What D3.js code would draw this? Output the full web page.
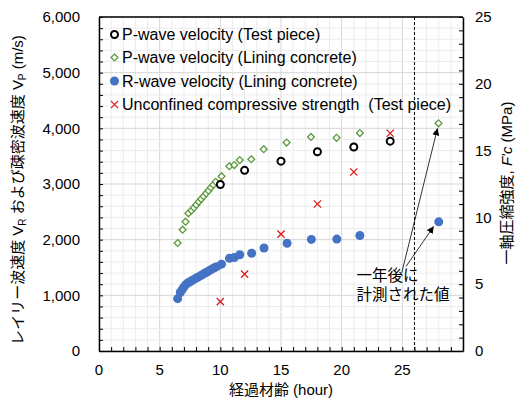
<!DOCTYPE html>
<html><head><meta charset="utf-8">
<script src="https://cdn.jsdelivr.net/npm/d3@7"></script>
<style>body{margin:0;background:#fff}svg{display:block}</style>
</head><body><svg id="c" width="518" height="401"></svg>
<script>
// ---- data ----
const pTestX = [10, 12, 15, 18, 21, 24];
const pTestY = [2990, 3245, 3410, 3580, 3665, 3770];
const pLinX = [6.48, 6.89, 7.13, 7.37, 7.62, 7.82, 8.02, 8.22, 8.42, 8.62, 8.82, 9.02, 9.22, 9.42, 9.62, 10.1, 10.74, 11.15, 11.6, 12.55, 13.58, 15.46, 17.47, 19.58, 21.5, 27.98];
const pLinY = [1940, 2179, 2323, 2474, 2525, 2575, 2625, 2680, 2730, 2780, 2830, 2880, 2935, 2985, 3040, 3140, 3320, 3340, 3430, 3445, 3625, 3745, 3845, 3830, 3915, 4090];
const rLinX = [6.48, 6.7, 6.85, 7.0, 7.15, 7.3, 7.5, 7.7, 7.9, 8.1, 8.3, 8.5, 8.7, 8.9, 9.1, 9.3, 9.5, 9.7, 10.1, 10.75, 11.15, 11.6, 12.58, 13.6, 15.5, 17.5, 19.6, 21.5, 28.0];
const rLinY = [940, 1050, 1100, 1150, 1190, 1220, 1245, 1270, 1295, 1320, 1345, 1370, 1395, 1420, 1445, 1470, 1495, 1515, 1560, 1665, 1680, 1730, 1755, 1850, 1935, 2005, 2010, 2075, 2320];
const ucsX = [10, 12, 15, 18, 21, 24];
const ucsY = [3.7, 5.75, 8.75, 11.0, 13.4, 16.3];
const xTicks = [0, 5, 10, 15, 20, 25];
const yTicks = [0, 1000, 2000, 3000, 4000, 5000, 6000];
const y2Ticks = [0, 5, 10, 15, 20, 25];
const legendLabels = ["P-wave velocity (Test piece)", "P-wave velocity (Lining concrete)", "R-wave velocity (Lining concrete)", "Unconfined compressive strength\u00a0 (Test piece)"];
const dashX = 26;

const L = 99, R = 463, T = 17, B = 351;
const x = d3.scaleLinear().domain([0, 30]).range([L, R]);
const y = d3.scaleLinear().domain([0, 6000]).range([B, T]);
const y2 = d3.scaleLinear().domain([0, 25]).range([B, T]);
const svg = d3.select("#c");
const FONT = "'Liberation Sans', Arial, 'Noto Sans CJK JP', sans-serif";
const GREEN = "#5b9a3c", BLUE = "#4472c4", RED = "#e0191b";

// grid
const g = svg.append("g");
d3.range(0, 31, 1).forEach(v => {
  g.append("line").attr("x1", x(v)).attr("x2", x(v)).attr("y1", T).attr("y2", B)
    .attr("stroke", v % 5 === 0 ? "#d6d6d6" : "#ececec").attr("stroke-width", 1);
});
d3.range(0, 6001, 200).forEach(v => {
  g.append("line").attr("x1", L).attr("x2", R).attr("y1", y(v)).attr("y2", y(v))
    .attr("stroke", v % 1000 === 0 ? "#d6d6d6" : "#ececec").attr("stroke-width", 1);
});

// dashed line
svg.append("line").attr("x1", x(dashX)).attr("x2", x(dashX)).attr("y1", T).attr("y2", B)
  .attr("stroke", "#000").attr("stroke-width", 1).attr("stroke-dasharray", "3,2");

// axes (inward ticks)
const ax = svg.append("g").attr("transform", `translate(0,${B})`)
  .call(d3.axisBottom(x).tickValues(d3.range(0, 31, 1)).tickSizeInner(-4).tickSizeOuter(0).tickFormat(""));
const ayl = svg.append("g").attr("transform", `translate(${L},0)`)
  .call(d3.axisLeft(y).tickValues(d3.range(0, 6001, 200)).tickSizeInner(-4).tickSizeOuter(0).tickFormat(""));
const ayr = svg.append("g").attr("transform", `translate(${R},0)`)
  .call(d3.axisRight(y2).tickValues(d3.range(0, 26, 1)).tickSizeInner(-4).tickSizeOuter(0).tickFormat(""));
[ax, ayl, ayr].forEach(a => { a.selectAll("path").attr("stroke", "#000").attr("stroke-width", 1.5); a.selectAll("line").attr("stroke", "#000"); });
svg.append("line").attr("x1", L).attr("x2", R).attr("y1", T).attr("y2", T).attr("stroke", "#000").attr("stroke-width", 1.5);

// tick labels
const fmt = d3.format(",");
svg.selectAll(".yl").data(yTicks).join("text").attr("x", 80).attr("y", d => y(d)).attr("dy", "0.35em")
  .attr("text-anchor", "end").attr("font-family", FONT).attr("font-size", 15).attr("fill", "#000").text(d => fmt(d));
svg.selectAll(".yr").data(y2Ticks).join("text").attr("x", 475).attr("y", d => y2(d)).attr("dy", "0.35em")
  .attr("text-anchor", "start").attr("font-family", FONT).attr("font-size", 15).attr("fill", "#000").text(d => d);
svg.selectAll(".xl").data(xTicks).join("text").attr("x", d => x(d)).attr("y", 375)
  .attr("text-anchor", "middle").attr("font-family", FONT).attr("font-size", 15).attr("fill", "#000").text(d => d);

// axis titles
svg.append("text").attr("x", 281).attr("y", 395).attr("text-anchor", "middle")
  .attr("font-family", FONT).attr("font-size", 15).attr("fill", "#000").text("経過材齢 (hour)");

const lt = svg.append("text").attr("transform", "translate(23,190) rotate(-90)").attr("text-anchor", "middle")
  .attr("font-family", FONT).attr("font-size", 15).attr("fill", "#000");
lt.append("tspan").text("レイリー波速度 V");
lt.append("tspan").attr("font-size", 10).attr("dy", 3).text("R");
lt.append("tspan").attr("dy", -3).text(" および疎密波速度 V");
lt.append("tspan").attr("font-size", 10).attr("dy", 3).text("P");
lt.append("tspan").attr("dy", -3).text(" (m/s)");

const rt = svg.append("text").attr("transform", "translate(512,183) rotate(-90)").attr("text-anchor", "middle")
  .attr("font-family", FONT).attr("font-size", 15).attr("fill", "#000");
rt.append("tspan").text("一軸圧縮強度, ");
rt.append("tspan").attr("font-style", "italic").text("F'c");
rt.append("tspan").text(" (MPa)");

// markers
const diamond = d3.symbol().type(d3.symbolDiamond2).size(30);
const cross = d3.symbol().type(d3.symbolX).size(36);
function drawDiamonds(sel, xs, ys) {
  sel.selectAll(null).data(xs.map((v, i) => [v, ys[i]])).join("path")
    .attr("d", diamond).attr("transform", d => `translate(${x(d[0])},${y(d[1])})`)
    .attr("fill", "#fff").attr("stroke", GREEN).attr("stroke-width", 1.3);
}
drawDiamonds(svg.append("g"), pLinX, pLinY);
svg.append("g").selectAll("circle").data(pTestX.map((v, i) => [v, pTestY[i]])).join("circle")
  .attr("cx", d => x(d[0])).attr("cy", d => y(d[1])).attr("r", 3.5)
  .attr("fill", "#fff").attr("stroke", "#000").attr("stroke-width", 2);
svg.append("g").selectAll("circle").data(rLinX.map((v, i) => [v, rLinY[i]])).join("circle")
  .attr("cx", d => x(d[0])).attr("cy", d => y(d[1])).attr("r", 4.5).attr("fill", BLUE);
svg.append("g").selectAll("path").data(ucsX.map((v, i) => [v, ucsY[i]])).join("path")
  .attr("d", cross).attr("transform", d => `translate(${x(d[0])},${y2(d[1])})`)
  .attr("fill", "none").attr("stroke", RED).attr("stroke-width", 1.3);

// legend
const lg = svg.append("g");
const rows = [34.5, 57.5, 81, 104.5];
legendLabels.forEach((t, i) => {
  const cy = rows[i], cx = 114.5;
  if (i === 0) lg.append("circle").attr("cx", cx).attr("cy", cy).attr("r", 3.5).attr("fill", "#fff").attr("stroke", "#000").attr("stroke-width", 2);
  if (i === 1) lg.append("path").attr("d", diamond).attr("transform", `translate(${cx},${cy})`).attr("fill", "#fff").attr("stroke", GREEN).attr("stroke-width", 1.3);
  if (i === 2) lg.append("circle").attr("cx", cx).attr("cy", cy).attr("r", 4.5).attr("fill", BLUE);
  if (i === 3) lg.append("path").attr("d", cross).attr("transform", `translate(${cx},${cy})`).attr("fill", "none").attr("stroke", RED).attr("stroke-width", 1.3);
  lg.append("text").attr("x", 122).attr("y", cy + 5.6).attr("font-family", FONT).attr("font-size", 16).attr("fill", "#000").text(t);
});

// annotation arrows
svg.append("defs").append("marker").attr("id", "ah").attr("viewBox", "0 0 10 10").attr("refX", 10).attr("refY", 5)
  .attr("markerWidth", 7).attr("markerHeight", 7).attr("markerUnits", "userSpaceOnUse").attr("orient", "auto")
  .append("path").attr("d", "M0,0 L10,5 L0,10 z").attr("fill", "#000");
const last = pLinX.length - 1, lastB = rLinX.length - 1;
svg.append("line").attr("x1", 401.7).attr("y1", 273).attr("x2", x(pLinX[last]) - 1).attr("y2", y(pLinY[last]) + 5)
  .attr("stroke", "#000").attr("stroke-width", 0.8).attr("marker-end", "url(#ah)");
svg.append("line").attr("x1", 406).attr("y1", 266.5).attr("x2", x(rLinX[lastB]) - 5).attr("y2", y(rLinY[lastB]) + 4.5)
  .attr("stroke", "#000").attr("stroke-width", 0.8).attr("marker-end", "url(#ah)");
svg.append("text").attr("x", 356.5).attr("y", 281).attr("font-family", FONT).attr("font-size", 15.5).attr("fill", "#000").text("一年後に");
svg.append("text").attr("x", 356.5).attr("y", 299.5).attr("font-family", FONT).attr("font-size", 15.5).attr("fill", "#000").text("計測された値");
</script></body></html>
